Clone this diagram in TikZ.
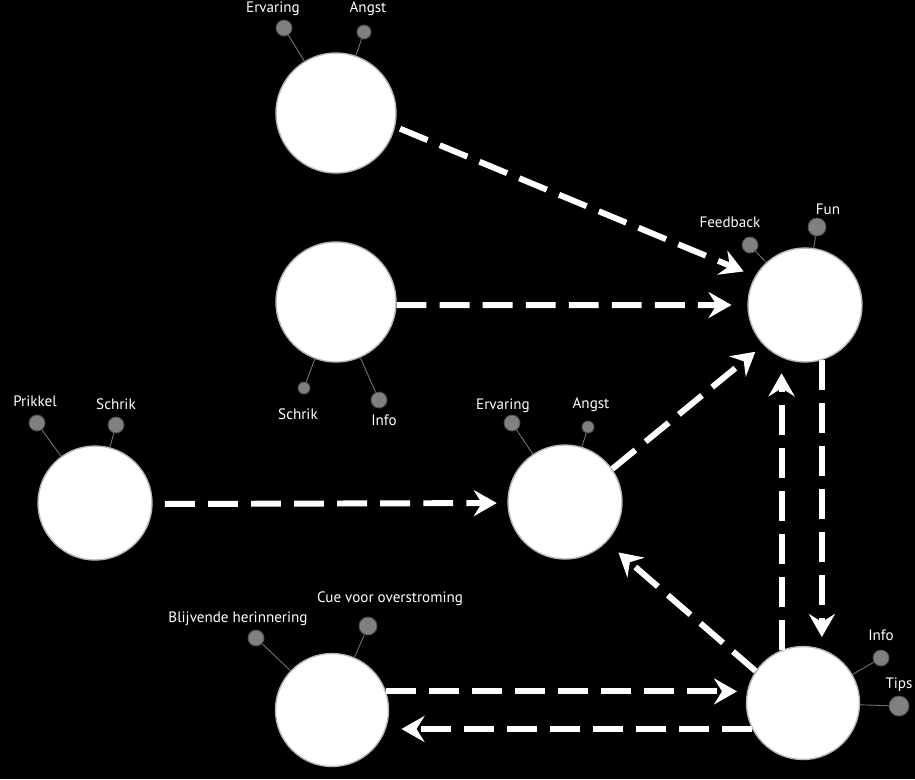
\documentclass[tikz,border=0pt]{standalone}
\usepackage{fontspec}
\setmainfont{PT Sans}
\usetikzlibrary{arrows.meta}

\begin{document}
\begin{tikzpicture}[x=0.02cm,y=-0.02cm,
  >={Stealth[length=4.6mm,width=5.2mm,inset=1.6mm]},
  hub/.style={circle,fill=white,draw=white!72!black,line width=0.8pt,inner sep=0pt,minimum size=2.28cm},
  dot/.style={circle,fill=white!50!black,draw=white!30!black,line width=0.5pt,inner sep=0pt,minimum size=0.32cm},
  stem/.style={white!45!black,line width=0.5pt},
  tag/.style={text=white,font=\fontsize{8.6}{10}\selectfont,inner sep=0pt},
  flow/.style={->,white,line width=3.4pt,dash pattern=on 17pt off 7.5pt}]
  \fill[black] (0,0) rectangle (915,779);
  \useasboundingbox (0,0) rectangle (915,779);

  % circles
  \node[hub,minimum size=2.4cm] (top) at (336,113) {};
  \node[hub,minimum size=2.4cm] (sec) at (336,302) {};
  \node[hub] (lft) at (95,503) {};
  \node[hub] (mid) at (565,502) {};
  \node[hub] (rt) at (805,305) {};
  \node[hub,minimum size=2.26cm] (bl) at (332,710) {};
  \node[hub,minimum size=2.26cm] (br) at (803,703) {};

  % small dots and their labels
  \node[dot] (topE) at (284,28) {};
  \node[dot,minimum size=0.28cm] (topA) at (364,32) {};
  \node[tag] at (273,9) {Ervaring};
  \node[tag] at (368,9) {Angst};
  \draw[stem] (topE) -- (top); \draw[stem] (topA) -- (top);

  \node[dot,minimum size=0.24cm] (secS) at (304,388) {};
  \node[dot] (secI) at (379,400) {};
  \node[tag] at (298,414) {Schrik};
  \node[tag] at (384,420) {Info};
  \draw[stem] (secS) -- (sec); \draw[stem] (secI) -- (sec);

  \node[dot] (lftP) at (37,423) {};
  \node[dot] (lftS) at (116,425) {};
  \node[tag] at (35,401) {Prikkel};
  \node[tag] at (116,404) {Schrik};
  \draw[stem] (lftP) -- (lft); \draw[stem] (lftS) -- (lft);

  \node[dot] (midE) at (512,423) {};
  \node[dot,minimum size=0.24cm] (midA) at (588,427) {};
  \node[tag] at (503,406) {Ervaring};
  \node[tag] at (591,405) {Angst};
  \draw[stem] (midE) -- (mid); \draw[stem] (midA) -- (mid);

  \node[dot] (rtF) at (750,245) {};
  \node[dot,minimum size=0.36cm] (rtU) at (817,227) {};
  \node[tag] at (730,222) {Feedback};
  \node[tag] at (828,209) {Fun};
  \draw[stem] (rtF) -- (rt); \draw[stem] (rtU) -- (rt);

  \node[dot] (blB) at (256,638) {};
  \node[dot,minimum size=0.36cm] (blC) at (368,626) {};
  \node[tag] at (238,619) {Blijvende herinnering};
  \node[tag] at (390,599) {Cue voor overstroming};
  \draw[stem] (blB) -- (bl); \draw[stem] (blC) -- (bl);

  \node[dot] (brI) at (881,658) {};
  \node[dot,minimum size=0.4cm] (brT) at (899,706) {};
  \node[tag] at (881,635) {Info};
  \node[tag] at (899,685) {Tips};
  \draw[stem] (brI) -- (br); \draw[stem] (brT) -- (br);

  % dashed arrows
  \draw[flow,shorten <=3pt,shorten >=7pt] (top.-13) -- (rt.150);
  \draw[flow,shorten >=9pt] (sec.-3) -- (rt.180);
  \draw[flow,shorten <=7pt,shorten >=6pt] (lft.-1) -- (mid.181);
  \draw[flow,shorten >=6pt] (mid.35) -- (rt.224);
  \draw[flow,shorten >=5pt] (rt.-73) -- (rt.-73 |- br.north);
  \draw[flow,shorten >=6pt] (br.112) -- (br.112 |- rt.south);
  \draw[flow,shorten >=9pt] (br.146) -- (mid.-44);
  \draw[flow,shorten >=5pt] (bl.19) -- (bl.19 -| br.west);
  \draw[flow,shorten >=7pt] (br.207) -- (br.207 -| bl.east);
\end{tikzpicture}
\end{document}
